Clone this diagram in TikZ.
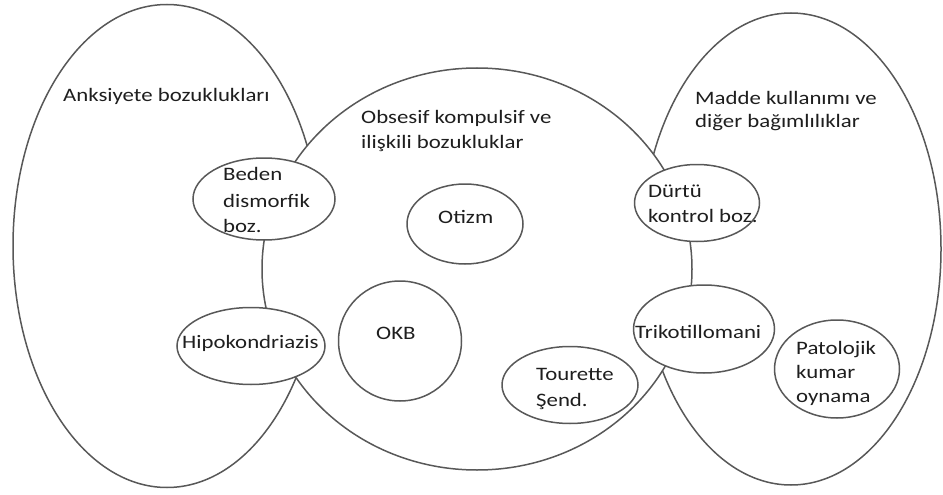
\documentclass[tikz,border=0pt]{standalone}
\usepackage{fontspec}
\setmainfont[FakeStretch=1.2]{Carlito}
\usetikzlibrary{shapes.geometric}

\definecolor{edge}{RGB}{88,88,88}
\definecolor{ink}{RGB}{30,30,30}

\tikzset{
  group/.style={draw=edge, line width=1.5pt, fill=white, ellipse, inner sep=0pt},
  item/.style={draw=edge, line width=1.5pt, fill=white, ellipse, inner sep=0pt},
  txt/.style={anchor=base west, inner sep=0pt, text=ink,
              font=\fontsize{19}{25}\selectfont},
}

\begin{document}
\begin{tikzpicture}[x=1pt,y=-1pt]
  \useasboundingbox (0,0) rectangle (943,495);

  % three disorder groups
  \node[group, minimum width=308pt, minimum height=483pt] (anx) at (167,246) {};
  \node[group, minimum width=300pt, minimum height=472pt] (sub) at (791,249) {};
  \node[group, minimum width=430pt, minimum height=402pt] (ocd) at (477,269) {};

  % individual disorders
  \node[item, minimum width=142pt, minimum height=82pt]  (bdd)  at (264,199) {};
  \node[item, minimum width=148pt, minimum height=77pt]  (hypo) at (251,346) {};
  \node[item, minimum width=116pt, minimum height=80pt]  (aut)  at (465,224) {};
  \node[item, minimum width=123pt, minimum height=120pt] (okb)  at (400,341) {};
  \node[item, minimum width=136pt, minimum height=77pt]  (tour) at (570,385) {};
  \node[item, minimum width=125pt, minimum height=77pt]  (imp)  at (697,203) {};
  \node[item, minimum width=141pt, minimum height=88pt]  (tric) at (704,329) {};
  \node[item, minimum width=125pt, minimum height=98pt]  (gamb) at (837,369) {};

  % group titles
  \node[txt] (anxT1) at (63,102) {Anksiyete bozuklukları};
  \node[txt] (ocdT1) at (361,123) {Obsesif kompulsif ve};
  \node[txt] (ocdT2) at (361,148) {ilişkili bozukluklar};
  \node[txt] (subT1) at (695,104) {Madde kullanımı ve};
  \node[txt] (subT2) at (695,128) {diğer bağımlılıklar};

  % disorder labels
  \node[txt] (bddT1) at (223,180) {Beden};
  \node[txt] (bddT2) at (223,207) {dismorfik};
  \node[txt] (bddT3) at (223,232) {boz.};
  \node[txt] (hypoT) at (182,348) {Hipokondriazis};
  \node[txt] (autT)  at (438,223) {Otizm};
  \node[txt] (okbT)  at (376,339) {OKB};
  \node[txt] (tourT1) at (536,380) {Tourette};
  \node[txt] (tourT2) at (536,406) {Şend.};
  \node[txt] (impT1) at (648,197) {Dürtü};
  \node[txt] (impT2) at (648,222) {kontrol boz.};
  \node[txt] (tricT) at (635,338) {Trikotillomani};
  \node[txt] (gambT1) at (796,354) {Patolojik};
  \node[txt] (gambT2) at (796,378) {kumar};
  \node[txt] (gambT3) at (796,402) {oynama};
\end{tikzpicture}
\end{document}
